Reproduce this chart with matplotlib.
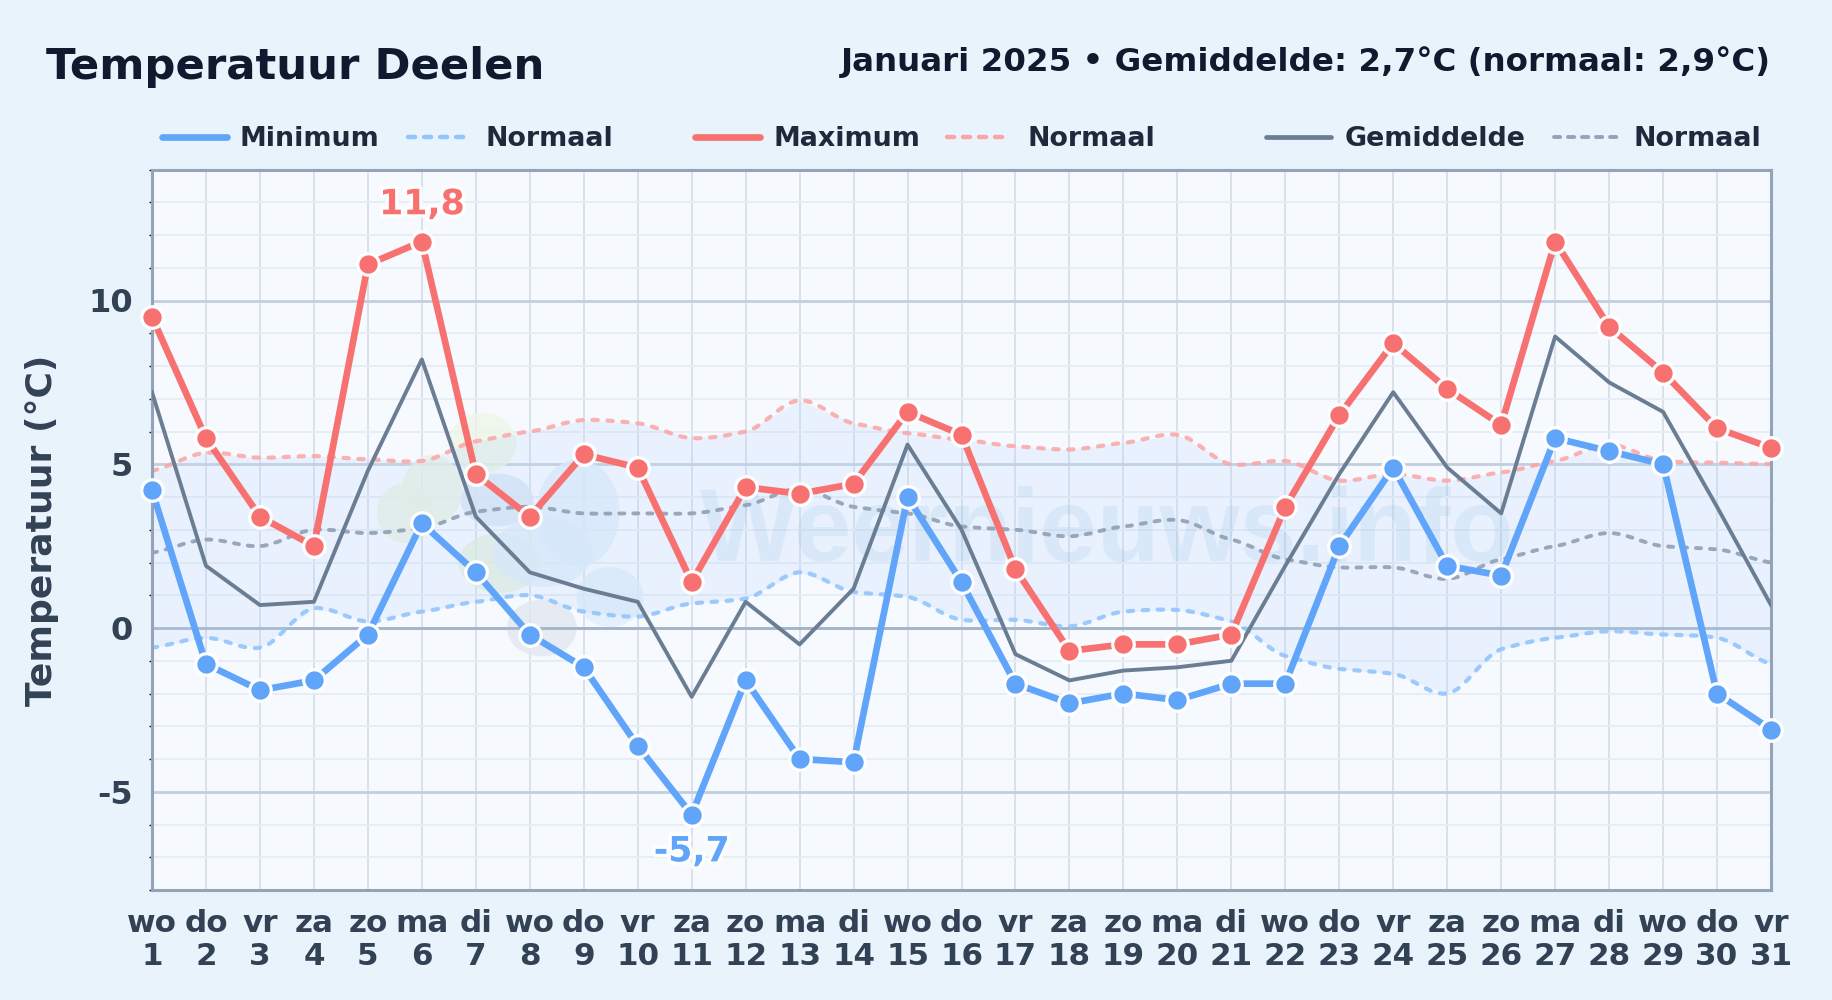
import matplotlib
matplotlib.use("Agg")
import matplotlib.pyplot as plt
import matplotlib.patheffects as pe
import numpy as np
from matplotlib.lines import Line2D
from matplotlib.patches import Ellipse, PathPatch
from matplotlib.path import Path
from matplotlib.ticker import MultipleLocator

weekdays = ["wo","do","vr","za","zo","ma","di","wo","do","vr","za","zo","ma","di","wo","do","vr","za","zo","ma","di","wo","do","vr","za","zo","ma","di","wo","do","vr"]
days = list(range(1, 32))
t_min = [4.2,-1.1,-1.9,-1.6,-0.2,3.2,1.7,-0.2,-1.2,-3.6,-5.7,-1.6,-4.0,-4.1,4.0,1.4,-1.7,-2.3,-2.0,-2.2,-1.7,-1.7,2.5,4.9,1.9,1.6,5.8,5.4,5.0,-2.0,-3.1]
t_max = [9.5,5.8,3.4,2.5,11.1,11.8,4.7,3.4,5.3,4.9,1.4,4.3,4.1,4.4,6.6,5.9,1.8,-0.7,-0.5,-0.5,-0.2,3.7,6.5,8.7,7.3,6.2,11.8,9.2,7.8,6.1,5.5]
t_avg = [7.2,1.9,0.7,0.8,4.8,8.2,3.4,1.7,1.2,0.8,-2.1,0.8,-0.5,1.2,5.6,3.0,-0.8,-1.6,-1.3,-1.2,-1.0,1.9,4.7,7.2,4.9,3.5,8.9,7.5,6.6,3.7,0.7]
n_min = [-0.6,-0.3,-0.6,0.6,0.2,0.5,0.8,1.0,0.5,0.35,0.75,0.9,1.7,1.1,0.95,0.25,0.25,0.05,0.5,0.55,0.2,-0.85,-1.25,-1.4,-2.0,-0.65,-0.3,-0.1,-0.2,-0.3,-1.1]
n_max = [4.8,5.35,5.2,5.25,5.15,5.1,5.7,6.0,6.35,6.25,5.8,6.0,6.95,6.25,5.95,5.75,5.55,5.45,5.65,5.9,5.0,5.1,4.5,4.7,4.5,4.75,5.1,5.6,5.1,5.05,5.0]
n_avg = [2.3,2.7,2.5,3.0,2.9,3.05,3.55,3.7,3.5,3.5,3.5,3.75,4.25,3.7,3.5,3.1,3.0,2.8,3.1,3.3,2.7,2.1,1.85,1.85,1.5,2.1,2.5,2.9,2.5,2.4,2.0]

BG = "#e8f3fc"
BLUE = "#60a5fa"
RED = "#f87171"
GREY = "#6b7d93"
DARK = "#0f1a2e"
LABEL = "#334155"
W, H = 1832, 1000

plt.rcParams["font.family"] = ["DejaVu Sans"]
fig = plt.figure(figsize=(W/100, H/100), dpi=100, facecolor=BG)
L, R, T, B = 152, 1771, 169.5, 890
ax = fig.add_axes([L/W, 1-B/H, (R-L)/W, (B-T)/H], facecolor="#f6faff")
ax.set_xlim(1, 31)
ax.set_ylim(-8, 14)

ax.set_xticks(days)
ax.set_xticklabels([f"{w}\n{d}" for w, d in zip(weekdays, days)], fontsize=22.3, fontweight="bold", color=LABEL, linespacing=1.2)
ax.tick_params(axis="x", length=0, pad=13.5)
ax.yaxis.set_major_locator(MultipleLocator(5))
ax.yaxis.set_minor_locator(MultipleLocator(1))
ax.set_yticks([-5, 0, 5, 10])
ax.set_yticklabels(["-5", "0", "5", "10"], fontsize=23, fontweight="bold", color=LABEL)
ax.tick_params(axis="y", which="major", length=0, pad=13.5)
ax.tick_params(axis="y", which="minor", length=2.5, width=1, color="#111111")
ax.set_ylabel("Temperatuur (°C)", fontsize=26, fontweight="bold", color=LABEL)
ax.yaxis.set_label_coords((59-L)/(R-L), 1-(530-T)/(B-T))

ax.grid(True, axis="x", which="major", color="#d9e1ec", lw=1.4, zorder=1)
ax.grid(True, axis="y", which="minor", color="#e6edf4", lw=1.4, zorder=1)
ax.grid(True, axis="y", which="major", color="#c3cfdf", lw=2.0, zorder=1)
ax.axhline(0, color="#a3b3c8", lw=2.0, zorder=1.1)
ax.set_axisbelow(True)
for s in ax.spines.values():
    s.set_color("#94a3b8")
    s.set_linewidth(2.2)

# watermark: logo blobs and name, behind the data
blobs = [(405,513,56,60,"#ebf3e2"),(483,443,67,60,"#eef5e6"),(432,490,60,70,"#ebf3e2"),(500,563,83,60,"#e6f0dc"),
         (543,552,100,70,"#e0eefb"),(578,513,83,107,"#e0eefb"),(610,597,67,60,"#e0eefb"),
         (497,500,73,53,"#d9e6f6"),(542,628,70,57,"#e2e8f1")]
tr = fig.dpi_scale_trans
for x, y, w, h, c in blobs:
    ax.add_patch(Ellipse((x/100, (H-y)/100), w/100, h/100, transform=tr, fc=c, ec="none", alpha=0.8, zorder=0.6))
ax.text(700/W, 1-534/H, "Weernieuws.info", transform=fig.transFigure, fontsize=74, family="Liberation Sans",
        fontweight="bold", color="#5b9bd5", alpha=0.10, va="center", ha="left", zorder=1.8)


def smooth_path(xs, ys):
    """Bezier path through the data points (the normals are drawn as gentle curves)."""
    xs, ys = np.asarray(xs, float), np.asarray(ys, float)
    m = np.gradient(ys, xs)
    verts, codes = [(xs[0], ys[0])], [Path.MOVETO]
    for i in range(len(xs) - 1):
        dx = (xs[i+1] - xs[i]) / 3
        verts += [(xs[i] + dx, ys[i] + m[i]*dx*0.6), (xs[i+1] - dx, ys[i+1] - m[i+1]*dx*0.6), (xs[i+1], ys[i+1])]
        codes += [Path.CURVE4]*3
    return Path(verts, codes)


ax.fill_between(days, n_min, n_max, color="#bcd8f8", alpha=0.24, lw=0, zorder=1.5)

DASH = (0, (1.3, 2.3))
for vals, col, lw, a in [(n_min, "#93c5fd", 3, .9), (n_max, "#fca5a5", 3, .85), (n_avg, "#94a3b8", 2.8, .95)]:
    ax.add_patch(PathPatch(smooth_path(days, vals), fc="none", ec=col, lw=lw, ls=DASH, capstyle="round", alpha=a, zorder=2))
ax.plot(days, t_avg, color=GREY, lw=2.8, zorder=3)
ax.plot(days, t_min, color=BLUE, lw=4.8, zorder=4, marker="o", ms=15.5, mfc=BLUE, mec="white", mew=2.3, clip_on=False)
ax.plot(days, t_max, color=RED, lw=4.8, zorder=4.2, marker="o", ms=15.5, mfc=RED, mec="white", mew=2.3, clip_on=False)

halo = [pe.withStroke(linewidth=5, foreground="white", alpha=0.9)]
imax = int(np.argmax(t_max))
imin = int(np.argmin(t_min))
ax.text(days[imax], t_max[imax]+1.14, f"{t_max[imax]:.1f}".replace(".", ","), color=RED, fontsize=25, fontweight="bold", ha="center", va="center", path_effects=halo, zorder=6)
ax.text(days[imin], t_min[imin]-1.12, f"{t_min[imin]:.1f}".replace(".", ","), color=BLUE, fontsize=25, fontweight="bold", ha="center", va="center", path_effects=halo, zorder=6)

fig.text(46/W, 1-67.5/H, "Temperatuur Deelen", fontsize=31.2, fontweight="bold", color=DARK, va="center", ha="left")
fig.text(1771/W, 1-62.5/H, "Januari 2025 • Gemiddelde: 2,7°C (normaal: 2,9°C)", fontsize=23.4, fontweight="bold", color=DARK, va="center", ha="right")

legend_y = 137
legend = [
    (162, 227, 240, "Minimum", BLUE, 4.8, "-"),
    (408, 465, 486, "Normaal", "#93c5fd", 3.2, (0, (1.6, 2.0))),
    (695, 760, 773, "Maximum", RED, 4.8, "-"),
    (947, 1005, 1027, "Normaal", "#fca5a5", 3.2, (0, (1.6, 2.0))),
    (1266, 1331, 1345, "Gemiddelde", GREY, 3.4, "-"),
    (1554, 1618, 1634, "Normaal", "#94a3b8", 2.8, (0, (1.6, 2.0))),
]
for x0, x1, xt, label, c, lw, ls in legend:
    fig.add_artist(Line2D([x0/W, x1/W], [1-legend_y/H]*2, transform=fig.transFigure, color=c, lw=lw, ls=ls,
                          solid_capstyle="round", dash_capstyle="round"))
    fig.text(xt/W, 1-(legend_y+1.5)/H, label, fontsize=19.4, fontweight="bold", color="#1e293b", va="center", ha="left")

fig.savefig("out.png", dpi=100, facecolor=BG)
